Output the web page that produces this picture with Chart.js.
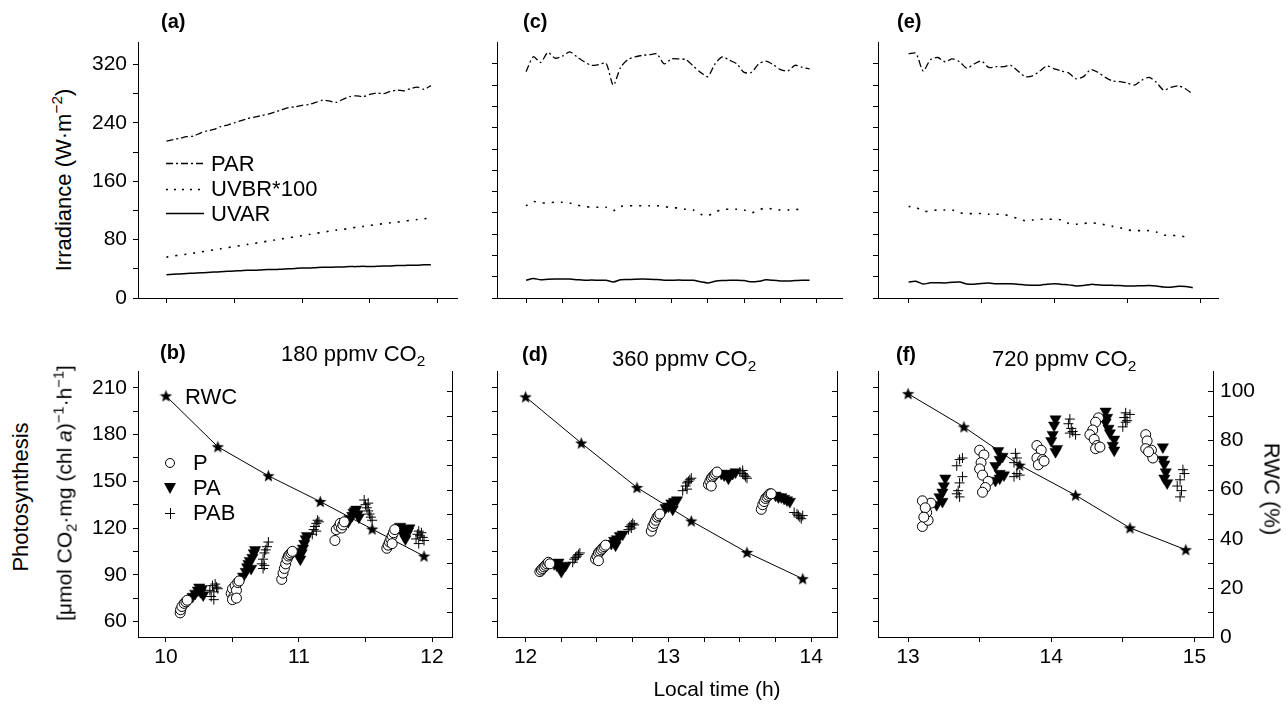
<!DOCTYPE html>
<html><head><meta charset="utf-8">
<script src="https://cdn.jsdelivr.net/npm/chart.js@4.4.1/dist/chart.umd.min.js"></script>
<style>
body{margin:0;background:#fff;width:1287px;height:709px;position:relative;overflow:hidden;font-family:"Liberation Sans",Arial,Helvetica,sans-serif;color:#000}
canvas{position:absolute}
.t{position:absolute;white-space:nowrap;font-size:21px;line-height:21px}
.bd{font-weight:bold;font-size:20px}
.rl{transform:translate(-50%,-50%) rotate(-90deg)}
.rr{transform:translate(-50%,-50%) rotate(90deg)}
.c{transform:translate(-50%,-50%)}
sub,sup{font-size:70%;line-height:0}
svg{position:absolute;overflow:visible}
</style></head><body>
<canvas id="ca"></canvas><canvas id="cc"></canvas><canvas id="ce"></canvas>
<canvas id="cb"></canvas><canvas id="cd"></canvas><canvas id="cf"></canvas>

<div class="t bd" style="left:161px;top:11px">(a)</div>
<div class="t bd" style="left:523px;top:11px">(c)</div>
<div class="t bd" style="left:897px;top:11px">(e)</div>
<div class="t bd" style="left:160px;top:342px">(b)</div>
<div class="t bd" style="left:522px;top:344px">(d)</div>
<div class="t bd" style="left:896px;top:344px">(f)</div>
<div class="t" style="left:281px;top:343px;font-size:22px">180 ppmv CO<sub>2</sub></div>
<div class="t" style="left:612px;top:348px;font-size:22px">360 ppmv CO<sub>2</sub></div>
<div class="t" style="left:992px;top:348px;font-size:22px">720 ppmv CO<sub>2</sub></div>

<svg style="left:164px;top:155px" width="42" height="66">
<line x1="2" y1="8.5" x2="40" y2="8.5" stroke="#000" stroke-width="1.3" stroke-dasharray="7 3 2 3"/>
<line x1="2" y1="34.5" x2="40" y2="34.5" stroke="#000" stroke-width="1.5" stroke-dasharray="2 6"/>
<line x1="2" y1="58.5" x2="40" y2="58.5" stroke="#000" stroke-width="1.5"/>
</svg>
<div class="t" style="left:211px;top:153px;font-size:22px">PAR</div>
<div class="t" style="left:211px;top:178px;font-size:22px">UVBR*100</div>
<div class="t" style="left:211px;top:203px;font-size:22px">UVAR</div>

<svg style="left:160px;top:452px" width="22" height="70">
<circle cx="10" cy="11" r="4.5" fill="#fff" stroke="#000" stroke-width="1"/>
<polygon points="4,31 16,31 10,42" fill="#000"/>
<line x1="5" y1="61.5" x2="15" y2="61.5" stroke="#000" stroke-width="1"/>
<line x1="10.5" y1="56" x2="10.5" y2="67" stroke="#000" stroke-width="1"/>
</svg>
<div class="t" style="left:185px;top:386px;font-size:22px">RWC</div>
<div class="t" style="left:193px;top:452px;font-size:22px">P</div>
<div class="t" style="left:193px;top:477px;font-size:22px">PA</div>
<div class="t" style="left:193px;top:502px;font-size:22px">PAB</div>

<div class="t rl" style="left:63px;top:180px;font-size:22px">Irradiance (W·m<sup>−2</sup>)</div>
<div class="t rl" style="left:20px;top:497px;font-size:22px">Photosynthesis</div>
<div class="t rl" style="left:64px;top:493px;font-size:21px">[μmol CO<sub>2</sub>·mg (chl <i>a</i>)<sup>−1</sup>·h<sup>−1</sup>]</div>
<div class="t rr" style="left:1272px;top:489px;font-size:22px">RWC (%)</div>
<div class="t c" style="left:717px;top:688px;font-size:21px">Local time (h)</div>

<script>
// ---------- Irradiance panels (W m-2) ----------
const timeA = [10.00,10.05,10.10,10.15,10.20,10.25,10.30,10.35,10.40,10.45,10.50,10.55,10.60,10.65,10.70,10.75,10.80,10.85,10.90,10.95,11.00,11.05,11.10,11.15,11.20,11.25,11.30,11.35,11.40,11.45,11.50,11.55,11.60,11.65,11.70,11.75,11.80,11.85,11.90,11.95];
const parA  = [215,217,219,221,222,226,229,231,235,237,240,243,246,248,250,252,255,258,261,262,264,265,268,271,270,268,272,276,277,276,279,281,280,283,285,284,287,289,286,291];
const uvbrA = [56,57.5,59,60,61.5,63,64.5,66,67.5,69,70.5,72,73.5,75,76.5,78,79.5,81,82.5,84,85.5,87,88.5,90,91.5,93,94,95.5,97,98,99.5,100.5,102,103,104,105,106.5,107.5,108.5,109.5];
const uvarA = [32,32.5,33,33.5,34,34.5,35,35.5,36,36.5,37,37.5,38,38,38.5,39,39,39.5,40,40.5,41,41,41.5,42,42,42.5,42.5,43,43,43.5,43,43.5,44,44,44.5,44.5,45,45,45.5,45.5];

const timeC = [12.00,12.05,12.10,12.15,12.20,12.25,12.30,12.35,12.40,12.45,12.50,12.55,12.60,12.65,12.70,12.75,12.80,12.85,12.90,12.95,13.00,13.05,13.10,13.15,13.20,13.25,13.30,13.35,13.40,13.45,13.50,13.55,13.60,13.65,13.70,13.75,13.80,13.85,13.90,13.95];
const parC  = [319,340,332,346,338,341,347,340,333,328,329,331,300,325,336,340,342,343,344,330,337,337,336,327,318,312,330,340,335,330,318,318,330,334,329,322,320,328,325,323];
const uvbrC = [130,136,134,134,135,135,134,131,129,128,128,128,123,129,130,130,130,130,130,129,127,127,125,124,118,116,121,125,125,125,124,120,124,127,125,124,124,125,124,null];
const uvarC = [25,27.5,25.8,26.5,26.7,26.7,26.7,25.8,25,25.2,25,25,22.6,25.6,26,26.5,26.7,26.5,26,25,25,25.4,25,25,23,21.3,23.5,24.5,25,25,24.5,22.8,23.5,25.6,25,24,24,24.5,25,25];

const timeE = [13.00,13.05,13.10,13.15,13.20,13.25,13.30,13.35,13.40,13.45,13.50,13.55,13.60,13.65,13.70,13.75,13.80,13.85,13.90,13.95,14.00,14.05,14.10,14.15,14.20,14.25,14.30,14.35,14.40,14.45,14.50,14.55,14.60,14.65,14.70,14.75,14.80,14.85,14.90,14.95];
const parE  = [344,345,320,336,339,333,337,333,324,330,334,325,326,326,328,320,312,313,320,327,323,320,317,309,312,322,318,311,306,305,303,300,307,311,304,293,297,299,295,287];
const uvbrE = [129,128,122,123,124,124,124,120,119,119,119,118,118,118,115,112,109,110,111,111,111,110,105,104,105,106,105,103,101,99,96,95,95,95,93,89,88,88,86,null];
const uvarE = [22.6,23.5,19.6,21.5,21.5,21.3,22.2,22.6,19.8,19.4,20.5,21,20,20,20,19.5,18.3,18.1,18.1,19.5,20.2,19.2,18.5,17,17.5,19.2,18.6,18,17.8,17.5,16.8,17,17.3,17.6,17,15.5,15.2,16.5,16.3,14.5];

// ---------- Photosynthesis panels ----------
// 180 ppmv
const rwcTimeB = [10.0,10.39,10.77,11.16,11.55,11.94];
const rwcB     = [98.1,77.4,65.6,55.1,43.9,32.9];
const pTimeB   = [10.107,10.11,10.12,10.137,10.15,10.16,10.49,10.5,10.51,10.52,10.53,10.54,10.55,10.5,10.53,10.87,10.88,10.89,10.9,10.91,10.92,10.93,10.94,10.95,11.27,11.28,11.3,11.31,11.32,11.33,11.34,11.66,11.67,11.68,11.69,11.7,11.71,11.72,11.7];
const pB       = [65.5,67.5,69.6,71.6,72.6,73.6,78,81,76,83,80,85,86,74,75,87,91,94,97,100,102,103,104,105,112,119,121,123,120,122,124,107,109,111,113,115,117,119,110];
const paTimeB  = [10.2,10.22,10.24,10.25,10.26,10.27,10.28,10.58,10.6,10.61,10.62,10.63,10.65,10.64,10.66,10.67,10.99,11.0,11.01,11.02,11.03,11.04,11.05,11.06,11.37,11.38,11.4,11.41,11.42,11.43,11.44,11.45,11.76,11.77,11.78,11.79,11.8,11.81,11.82,11.83];
const paB      = [76,78,80,82,79,81,77,89,92,95,97,99,101,94,104,106,105,102,100,104,107,110,113,115,124,126,128,130,131,132,129,127,121,119,117,115,113,116,118,120];
const pabTimeB = [10.33,10.35,10.36,10.37,10.38,10.34,10.39,10.36,10.72,10.73,10.74,10.75,10.76,10.77,10.74,10.73,11.1,11.11,11.12,11.13,11.14,11.15,11.13,11.49,11.5,11.51,11.52,11.53,11.54,11.55,11.52,11.88,11.89,11.9,11.91,11.92,11.93,11.94,11.9];
const pabB     = [80,83,79,84,82,76,81,74,97,100,104,106,108,111,96,94,116,119,121,123,125,124,118,138,135,133,131,129,127,125,136,113,116,118,115,117,114,112,110];
// 360 ppmv
const rwcTimeD = [12.0,12.39,12.78,13.16,13.55,13.94];
const rwcD     = [97.7,78.9,60.8,47.2,34.4,23.7];
const pTimeD   = [12.1,12.11,12.12,12.13,12.14,12.15,12.16,12.17,12.49,12.5,12.51,12.52,12.53,12.54,12.55,12.56,12.51,12.88,12.89,12.9,12.91,12.92,12.93,12.94,13.28,13.29,13.3,13.31,13.32,13.33,13.34,13.3,13.65,13.66,13.67,13.68,13.69,13.7,13.71,13.72];
const pD       = [92,93,94,95,96,97,98,97,100,102,104,105,106,107,108,109,99,118,121,123,125,127,128,129,148,150,152,153,154,155,156,147,132,135,137,139,140,141,142,142];
const paTimeD  = [12.2,12.22,12.24,12.26,12.28,12.25,12.23,12.6,12.62,12.64,12.66,12.68,12.63,12.98,13.0,13.02,13.04,13.06,13.03,13.37,13.39,13.41,13.43,13.45,13.47,13.42,13.75,13.77,13.79,13.81,13.83,13.85];
const paD      = [97,96,95,94,96,92,98,110,112,113,115,116,109,133,134,136,137,138,132,155,154,155,154,155,156,152,141,140,140,139,138,137];
const pabTimeD = [12.33,12.34,12.35,12.36,12.37,12.38,12.72,12.73,12.74,12.75,12.76,12.74,13.1,13.12,13.13,13.14,13.15,13.16,13.13,13.5,13.52,13.53,13.54,13.55,13.52,13.88,13.9,13.91,13.92,13.93,13.94];
const pabD     = [98,100,101,102,103,104,119,121,122,123,122,120,144,147,149,150,151,152,145,156,155,154,153,152,157,130,129,128,127,126,128];
// 720 ppmv
const rwcTimeF = [13.0,13.39,13.78,14.17,14.55,14.94];
const rwcF     = [99,85.5,69.9,57.7,44.4,35.5];
const pTimeF   = [13.1,13.14,13.13,13.16,13.1,13.12,13.11,13.5,13.53,13.51,13.5,13.52,13.56,13.54,13.52,13.9,13.93,13.9,13.94,13.91,13.95,14.33,14.31,14.29,14.27,14.3,14.32,14.31,14.34,14.66,14.67,14.66,14.7,14.71,14.68];
const pF       = [121,125,130,136,137.5,133,127,170,167,162,158,154,150,146,143,173,170,165,164,160.6,163,190.8,188,183,180,177,173,171,172,180,176,171,170,165,169];
const paTimeF  = [13.26,13.25,13.24,13.22,13.24,13.2,13.63,13.66,13.64,13.61,13.64,13.61,13.67,13.64,14.03,14.02,14.01,14.0,14.04,14.03,14.38,14.39,14.38,14.4,14.41,14.44,14.43,14.44,14.78,14.78,14.79,14.8,14.79,14.81];
const paF      = [152,147,143,140,137,135,169.6,166,164,160,155,150.6,154,152,190,186,180,176,171,169,195,191,188,184,181,177,173,170,172,164,161,156,152,149];
const pabTimeF = [13.36,13.38,13.34,13.38,13.36,13.35,13.36,13.34,13.75,13.76,13.74,13.74,13.76,13.78,14.13,14.12,14.14,14.15,14.13,14.17,14.52,14.51,14.53,14.5,14.52,14.55,14.92,14.93,14.9,14.88,14.91,14.9];
const pabF     = [164,165,160,153,149,144,140,142,168,165,162,153,155,154,190,187,184,182,181,180,194,191,189,185,188,193,157.5,155,151,147,144,140];

// ---------- Ticks ----------
const xTicksAB = [10,10.5,11,11.5,12];
const xTicksCD = [12,12.25,12.5,12.75,13,13.25,13.5,13.75,14];
const xTicksEF = [13,13.5,14,14.5,15];
const yTicksIrrA  = [0,40,80,120,160,200,240,280,320];
const yTicksIrrCE = [0,30,60,90,120,150,180,210,240,270,300,330];
const yTicksPhoto = [60,75,90,105,120,135,150,165,180,195,210];
const yTicksRWC   = [0,10,20,30,40,50,60,70,80,90,100];

// ---------- Layout ----------
const GROUPS = [{l:138,r:452,xmin:9.79,xmax:12.15},{l:497,r:837,xmin:11.8,xmax:14.18},{l:878,r:1213,xmin:12.79,xmax:15.13}];
const ROWS = [{t:34,b:298},{t:362,b:637}];
const LW = 60, BH = 40;

Chart.defaults.font.family = '"Liberation Sans", Arial, Helvetica, sans-serif';
Chart.defaults.font.size = 21;
Chart.defaults.color = '#000';
Chart.defaults.animation = false;

function pts(xs, ys){ return xs.map((x,i)=>({x:x, y:ys[i]})); }

function starImg(size){
  const c=document.createElement('canvas'); c.width=c.height=size;
  const g=c.getContext('2d'); const R=size/2, r=R*0.42;
  g.beginPath();
  for(let i=0;i<10;i++){const a=-Math.PI/2+i*Math.PI/5; const rr=i%2?r:R; g.lineTo(R+rr*Math.cos(a), R*1.08+rr*Math.sin(a));}
  g.closePath(); g.fillStyle='#000'; g.fill(); return c;
}
const STAR = starImg(13);

const innerRightTicks = {
  id:'innerRightTicks',
  afterDraw(chart){
    const s = chart.scales.y2; if(!s) return;
    const ctx = chart.ctx, x = chart.chartArea.right;
    ctx.save(); ctx.strokeStyle='#000'; ctx.lineWidth=1;
    s.ticks.forEach(t=>{ const y=Math.round(s.getPixelForValue(t.value))+0.5; ctx.beginPath(); ctx.moveTo(x,y); ctx.lineTo(x-5,y); ctx.stroke(); });
    ctx.restore();
  }
};

function axisBase(){
  return {
    border:{display:true,color:'#000',width:1},
    grid:{drawOnChartArea:false,drawTicks:true,tickLength:5,color:'#000',lineWidth:1},
  };
}

function panel(id, gi, ri, datasets, o){
  const g=GROUPS[gi], rw=ROWS[ri], R=o.rightW;
  const cv=document.getElementById(id);
  const W=(g.r-g.l)+LW+R, H=(rw.b-rw.t)+10+BH;
  cv.width=W; cv.height=H; cv.style.width=W+'px'; cv.style.height=H+'px';
  cv.style.left=(g.l-LW)+'px'; cv.style.top=(rw.t-10)+'px';
  const scales = {
    x: Object.assign(axisBase(), {type:'linear', min:g.xmin, max:g.xmax,
      afterBuildTicks:s=>{ s.ticks=o.xTicks.map(v=>({value:v})); },
      afterFit:s=>{ s.height=BH; },
      ticks:{padding:3,autoSkip:false,maxRotation:0,callback:v=> (o.xLabels && Number.isInteger(v)) ? String(v) : ''}}),
    y: Object.assign(axisBase(), {type:'linear', position:'left', min:o.ymin, max:o.ymax,
      afterBuildTicks:s=>{ s.ticks=o.yTicks.map(v=>({value:v})); },
      afterFit:s=>{ s.width=LW; },
      ticks:{padding:6,autoSkip:false,callback:v=> (o.yLabel && o.yLabel(v)) ? String(v) : ''}})
  };
  if(o.y2){
    scales.y2 = Object.assign(axisBase(), {type:'linear', position:'right', min:0, max:108,
      afterBuildTicks:s=>{ s.ticks=yTicksRWC.map(v=>({value:v})); },
      afterFit:s=>{ s.width=R; },
      ticks:{padding:7,autoSkip:false,callback:v=> (o.y2Labels && v%20===0) ? String(v) : ''}});
    scales.y2.grid = {drawOnChartArea:false,drawTicks:false};
  }
  new Chart(cv, {
    type:'scatter',
    data:{datasets:datasets},
    options:{responsive:false, maintainAspectRatio:false, animation:false,
      layout:{padding:{top:10,left:0,right:0,bottom:0}, autoPadding:false},
      plugins:{legend:{display:false},tooltip:{enabled:false}},
      scales:scales},
    plugins:[innerRightTicks]
  });
}

function irrSets(t, par, uvb, uva){
  return [
    {data:pts(t,par), showLine:true, borderColor:'#000', borderWidth:1.3, borderDash:[7,3,2,3], pointRadius:0, tension:0.25},
    {data:pts(t,uvb), showLine:true, borderColor:'#000', borderWidth:1.6, borderDash:[2,7], pointRadius:0, tension:0.25},
    {data:pts(t,uva), showLine:true, borderColor:'#000', borderWidth:1.5, pointRadius:0, tension:0.25}
  ];
}
function photoSets(rt, rv, pt, pv, at, av, bt, bv){
  return [
    {data:pts(pt,pv), yAxisID:'y', pointStyle:'circle', pointRadius:5, backgroundColor:'#fff', borderColor:'#000', borderWidth:1},
    {data:pts(at,av), yAxisID:'y', pointStyle:'triangle', rotation:180, pointRadius:6.5, backgroundColor:'#000', borderColor:'#000', borderWidth:0.5},
    {data:pts(bt,bv), yAxisID:'y', pointStyle:'cross', pointRadius:5, borderColor:'#000', borderWidth:1},
    {data:pts(rt,rv), yAxisID:'y2', showLine:true, borderColor:'#000', borderWidth:1, pointStyle:STAR, pointRadius:6}
  ];
}

panel('ca',0,0, irrSets(timeA,parA,uvbrA,uvarA), {rightW:6, xTicks:xTicksAB, xLabels:false, ymin:0, ymax:350, yTicks:yTicksIrrA, yLabel:v=>v%80===0});
panel('cc',1,0, irrSets(timeC,parC,uvbrC,uvarC), {rightW:6, xTicks:xTicksCD, xLabels:false, ymin:0, ymax:360, yTicks:yTicksIrrCE, yLabel:null});
panel('ce',2,0, irrSets(timeE,parE,uvbrE,uvarE), {rightW:6, xTicks:xTicksEF, xLabels:false, ymin:0, ymax:360, yTicks:yTicksIrrCE, yLabel:null});

panel('cb',0,1, photoSets(rwcTimeB,rwcB,pTimeB,pB,paTimeB,paB,pabTimeB,pabB), {rightW:6, y2:true, y2Labels:false, xTicks:xTicksAB, xLabels:true, ymin:50, ymax:220.5, yTicks:yTicksPhoto, yLabel:v=>v%30===0});
panel('cd',1,1, photoSets(rwcTimeD,rwcD,pTimeD,pD,paTimeD,paD,pabTimeD,pabD), {rightW:6, y2:true, y2Labels:false, xTicks:xTicksCD, xLabels:true, ymin:50, ymax:220.5, yTicks:yTicksPhoto, yLabel:null});
panel('cf',2,1, photoSets(rwcTimeF,rwcF,pTimeF,pF,paTimeF,paF,pabTimeF,pabF), {rightW:66, y2:true, y2Labels:true, xTicks:xTicksEF, xLabels:true, ymin:50, ymax:220.5, yTicks:yTicksPhoto, yLabel:null});
</script>
</body></html>
